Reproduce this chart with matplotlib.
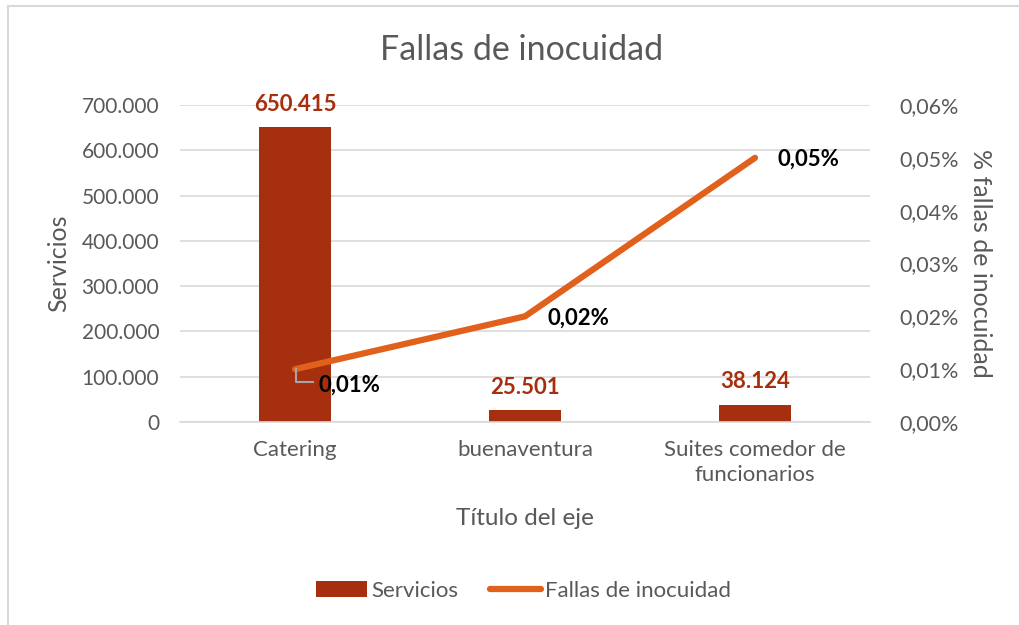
import matplotlib.pyplot as plt
from matplotlib.lines import Line2D
from matplotlib.ticker import FuncFormatter

plt.rcParams['font.family'] = ['Lato', 'DejaVu Sans']

categorias = ['Catering', 'buenaventura', 'Suites comedor de\nfuncionarios']
servicios = [650415, 25501, 38124]
fallas = [0.0001, 0.0002, 0.0005]
etiquetas_servicios = ['650.415', '25.501', '38.124']
etiquetas_fallas = ['0,01%', '0,02%', '0,05%']

color_barra = '#A52F0E'
color_linea = '#E0601C'
gris = '#595959'

fig = plt.figure(figsize=(10.19, 6.25), dpi=100)
ax = fig.add_axes([180/1019, 1-422/625, 690/1019, 317/625])
ax2 = ax.twinx()

x = list(range(len(categorias)))
ax.bar(x, servicios, width=0.315, color=color_barra, zorder=2, label='Servicios')
ax2.plot(x, fallas, color=color_linea, lw=4.5, solid_capstyle='round', label='Fallas de inocuidad', zorder=3)

ax.set_xlim(-0.5, 2.5)
ax.set_ylim(0, 700000)
ax.set_yticks(range(0, 700001, 100000))
ax.yaxis.set_major_formatter(FuncFormatter(lambda v, p: f'{int(v):,}'.replace(',', '.')))
ax2.set_ylim(0, 0.0006)
ax2.set_yticks([i * 0.0001 for i in range(7)])
ax2.yaxis.set_major_formatter(FuncFormatter(lambda v, p: f'{v*100:.2f}%'.replace('.', ',')))

ax.grid(axis='y', color='#D9D9D9', lw=1.2, zorder=0)
ax.set_axisbelow(True)
for a in (ax, ax2):
    for s in a.spines.values():
        s.set_visible(False)
    a.tick_params(length=0, labelsize=15.5, labelcolor=gris)
ax.spines['bottom'].set_visible(True)
ax.spines['bottom'].set_color('#D9D9D9')
ax.spines['bottom'].set_linewidth(1.2)

ax.set_xticks(x)
ax.set_xticklabels(categorias, fontsize=16, linespacing=1.3)
ax.tick_params(axis='x', pad=13)
ax.tick_params(axis='y', labelsize=15, pad=15)
ax2.tick_params(axis='y', pad=21)

ax.set_ylabel('Servicios', fontsize=18, color=gris, labelpad=8)
ax2.set_ylabel('% fallas de inocuidad', fontsize=18, color=gris, rotation=270, labelpad=24)
ax.set_xlabel('Título del eje', fontsize=17.5, color=gris, labelpad=17)
fig.text(0.512, 1-50/625, 'Fallas de inocuidad', ha='center', va='center', fontsize=24.5, color=gris)

for xi, v, t in zip(x, servicios, etiquetas_servicios):
    ax.annotate(t, (xi, v), xytext=(0, 9), textcoords='offset points', ha='center', va='bottom',
                fontsize=16, fontweight='bold', color=color_barra)

ax2.annotate(etiquetas_fallas[0], (x[0], fallas[0]), xytext=(17, -11.5), textcoords='offset points',
             ha='left', va='center', fontsize=16, fontweight='bold', color='black')
ax2.plot([x[0] + 0.005, x[0] + 0.005, x[0] + 0.08], [fallas[0], fallas[0] - 0.0000235, fallas[0] - 0.0000235],
         color='#A6A6A6', lw=1.5, zorder=4)
ax2.annotate(etiquetas_fallas[1], (x[1], fallas[1]), xytext=(16, -1), textcoords='offset points',
             ha='left', va='center', fontsize=16, fontweight='bold', color='black')
ax2.annotate(etiquetas_fallas[2], (x[2], fallas[2]), xytext=(16, -1), textcoords='offset points',
             ha='left', va='center', fontsize=16, fontweight='bold', color='black')

h1, l1 = ax.get_legend_handles_labels()
h2, l2 = ax2.get_legend_handles_labels()
fig.legend(h1 + h2, l1 + l2, loc='center', bbox_to_anchor=(0.514, 1-591/625), ncol=2, frameon=False,
           fontsize=16, labelcolor=gris, handlelength=2.3, handletextpad=0.2, columnspacing=1.4)

fig.add_artist(Line2D([8/1019, 8/1019], [0, 1-6/625], color='#D9D9D9', lw=1.5))
fig.add_artist(Line2D([8/1019, 1], [1-6/625, 1-6/625], color='#D9D9D9', lw=1.5))

fig.savefig('out.png', dpi=100, facecolor='white')
